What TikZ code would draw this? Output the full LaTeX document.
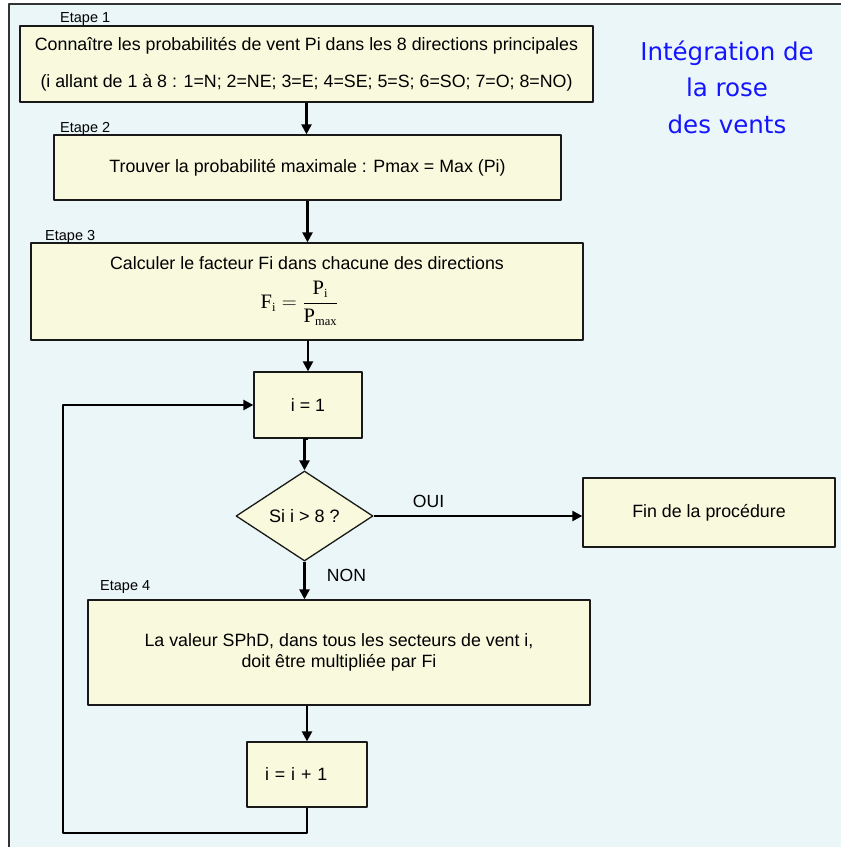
\documentclass[tikz,border=0pt]{standalone}
\usepackage{fontspec}
\setmainfont{Liberation Sans}
\newfontfamily\serif{Liberation Serif}
\newfontfamily\titlefont{DejaVu Sans}
\usetikzlibrary{arrows.meta}
\usetikzlibrary{shapes.geometric}
\usetikzlibrary{positioning}
\definecolor{paleblue}{RGB}{234,246,247}
\definecolor{paleyellow}{RGB}{248,249,221}
\definecolor{titleblue}{RGB}{20,20,255}
\newcommand{\smsub}[1]{\hbox{\serif\fontsize{12.5}{12.5}\selectfont #1}}

\begin{document}
\begin{tikzpicture}[line cap=round,line join=round,x=1pt,y=-1pt,
  >={Triangle[length=10pt,width=10pt]},
  stepbox/.style={draw=black!90,line width=1.3pt,fill=paleyellow,inner sep=0pt,
    font=\fontsize{17.8}{20.5}\selectfont,align=center},
  decision/.style={diamond,draw=black!90,line width=1.3pt,fill=paleyellow,inner sep=0pt,
    minimum width=137pt,minimum height=90pt,font=\fontsize{18}{20}\selectfont},
  steplabel/.style={anchor=base west,inner sep=0pt,font=\fontsize{14.5}{16}\selectfont},
  flow/.style={->,line width=2.3pt,line cap=butt},
  answer/.style={inner sep=0pt,font=\fontsize{17.6}{20}\selectfont}]
\useasboundingbox (0,0) rectangle (841,847);
\fill[paleblue] (9,4) rectangle (841,847);
\draw[line width=1.3pt,black!80] (9,847) -- (9,4) -- (841,4);
% title
\node[font=\titlefont\fontsize{24.5}{36.5}\selectfont,text=titleblue,align=center] (titre) at (727,87) {Intégration de\\la rose\\des vents};
% steps
\node[stepbox,minimum width=573pt,minimum height=76pt,font=\fontsize{17.8}{37}\selectfont] (connaitre) at (306.5,64)
  {Connaître les probabilités de vent Pi dans les 8 directions principales\\(i allant de 1 à 8 : 1=N; 2=NE; 3=E; 4=SE; 5=S; 6=SO; 7=O; 8=NO)};
\node[stepbox,minimum width=507pt,minimum height=65pt] (pmax) at (307.5,167.5) {Trouver la probabilité maximale : Pmax = Max (Pi)};
\node[stepbox,minimum width=552pt,minimum height=97pt] (facteur) at (307,291.5)
  {Calculer le facteur Fi dans chacune des directions\\[10pt]
   \hspace*{-15pt}{\fontsize{20.5}{22}\selectfont $\hbox{\serif F}_{\smsub{i}} = \displaystyle\frac{\hbox{\serif P}_{\smsub{i}}}{\hbox{\serif P}_{\smsub{max}}}$}};
\node[stepbox,minimum width=108pt,minimum height=66pt] (init) at (308,405) {i = 1};
\node[decision] (test) at (304.5,516) {Si i > 8 ?};
\node[stepbox,minimum width=252pt,minimum height=69pt] (fin) at (709,512.5) {Fin de la procédure};
\node[stepbox,minimum width=502pt,minimum height=105pt] (secteur) at (339,652.5)
  {La valeur SPhD, dans tous les secteurs de vent i,\\doit être multipliée par Fi};
\node[stepbox,minimum width=120pt,minimum height=65pt,text width=84pt,align=left,inner xsep=18pt] (incr) at (307,774.5) {i = i + 1};
% step labels
\node[steplabel] (etape1) at (60,22.5) {Etape 1};
\node[steplabel] (etape2) at (60,132) {Etape 2};
\node[steplabel] (etape3) at (45,240.5) {Etape 3};
\node[steplabel] (etape4) at (100,590) {Etape 4};
% connectors
\draw[flow] (connaitre.south) -- (connaitre.south |- pmax.north);
\draw[flow] (pmax.south) -- (pmax.south |- facteur.north);
\draw[flow] (facteur.south) -- (facteur.south -| init.north) -- (init.north);
\draw[flow] (init.south) -- (init.south -| test.north) -- (test.north);
\draw[flow] (test.east) -- (test.east -| fin.west);
\node[answer] (oui) at (428.5,501) {OUI};
\draw[flow] (test.south) -- (test.south |- secteur.north);
\node[answer] (non) at (346.5,575.5) {NON};
\draw[flow] (secteur.south -| incr.north) -- (incr.north);
\coordinate (retour) at (63,833);
\draw[flow] (incr.south) |- (retour) |- (init.west);
\end{tikzpicture}
\end{document}
